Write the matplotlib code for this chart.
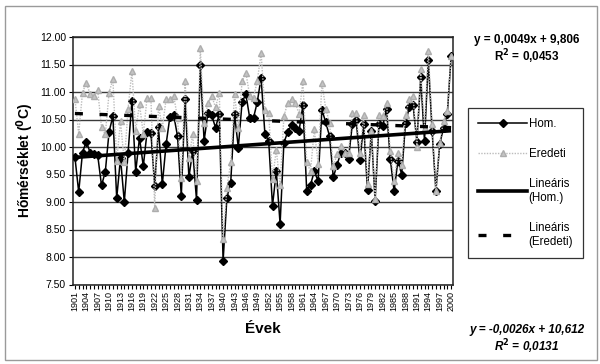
import numpy as np
import matplotlib
matplotlib.use("Agg")
import matplotlib.pyplot as plt
from matplotlib.lines import Line2D
from matplotlib.patches import Rectangle

plt.rcParams['font.family'] = ['Liberation Sans', 'DejaVu Sans']

years = list(range(1901, 2001))

hom = [9.82, 9.18, 9.90, 10.10, 9.90, 9.88, 9.85, 9.30, 9.55, 10.28,
       10.56, 9.07, 9.80, 9.00, 9.90, 10.84, 9.55, 10.17, 9.65, 10.28,
       10.26, 9.29, 10.36, 9.32, 10.05, 10.55, 10.58, 10.20, 9.11, 10.88,
       9.45, 9.93, 9.04, 11.49, 10.11, 10.62, 10.58, 10.35, 10.60, 7.93,
       9.08, 9.35, 10.60, 9.99, 10.82, 10.96, 10.53, 10.53, 10.82, 11.26,
       10.24, 10.11, 8.93, 9.56, 8.60, 10.08, 10.27, 10.40, 10.35, 10.30,
       10.76, 9.20, 9.31, 9.56, 9.38, 10.68, 10.45, 10.20, 9.45, 9.68,
       9.90, 9.90, 9.79, 10.41, 10.50, 9.76, 10.41, 9.21, 10.30, 9.02,
       10.41, 10.38, 10.70, 9.78, 9.20, 9.75, 9.50, 10.44, 10.72, 10.76,
       10.10, 11.27, 10.11, 11.59, 10.30, 9.20, 10.05, 10.35, 10.60, 11.65]

eredeti = [10.88, 10.24, 10.99, 11.17, 10.96, 10.93, 11.03, 10.36, 10.23, 10.99,
           11.23, 9.75, 10.47, 9.72, 10.70, 11.38, 10.30, 10.78, 10.23, 10.90,
           10.90, 8.90, 10.75, 10.35, 10.87, 10.87, 10.93, 10.53, 9.44, 11.20,
           9.80, 10.23, 9.38, 11.80, 10.44, 10.80, 10.93, 10.72, 10.99, 8.32,
           9.26, 9.72, 10.96, 10.35, 11.20, 11.35, 10.93, 10.90, 11.20, 11.71,
           10.68, 10.62, 9.41, 9.95, 9.30, 10.56, 10.80, 10.87, 10.80, 10.60,
           11.20, 9.72, 9.56, 10.32, 9.70, 11.17, 10.70, 10.44, 9.65, 9.87,
           10.02, 9.90, 9.90, 10.62, 10.62, 9.90, 10.58, 9.32, 10.30, 9.05,
           10.58, 10.56, 10.80, 9.93, 9.38, 9.90, 9.68, 10.59, 10.87, 10.93,
           10.00, 11.41, 10.35, 11.75, 10.41, 9.20, 10.08, 10.47, 10.65, 11.65]

hom_slope, hom_intercept, hom_r2 = 0.0049, 9.806, 0.0453
ered_slope, ered_intercept, ered_r2 = -0.0026, 10.612, 0.0131

ytick_vals = [7.5, 8.0, 8.5, 9.0, 9.5, 10.0, 10.5, 11.0, 11.5, 12.0]
xtick_years = years[::3]

fig = plt.figure(figsize=(6.0, 3.64), dpi=100)
fig.patch.set_facecolor('white')
fig.add_artist(Rectangle((5/600, 4/364), 592/600, 354/364, transform=fig.transFigure,
                         fill=False, edgecolor='#9a9a9a', lw=1.0))

ax = fig.add_axes([73/600, 1-284.5/364, (453-73)/600, (284.5-37)/364])

idx = np.arange(1, len(years)+1)
yrs = np.array(years)

ax.plot(yrs, hom, color='black', lw=1.1, marker='D', markersize=3.6, zorder=3)
ax.plot(yrs, eredeti, color='#bcbcbc', lw=1.0, ls=(0, (1, 1)), marker='^',
        markersize=4.5, markeredgecolor='#adadad', markerfacecolor='#c4c4c4', zorder=4)
ax.plot(yrs, hom_slope*idx + hom_intercept, color='black', lw=2.6, zorder=5,
        solid_capstyle='butt')
ax.plot(yrs, ered_slope*idx + ered_intercept, color='black', lw=2.4,
        ls=(0, (2.4, 5.0)), zorder=5, dash_capstyle='butt')

ax.set_xlim(1900.5, 2000.5)
ax.set_ylim(7.5, 12.0)
ax.set_yticks(ytick_vals)
ax.set_yticklabels([f"{v:.2f}" for v in ytick_vals], fontsize=7.5)
ax.set_xticks(xtick_years)
ax.set_xticklabels([str(y) for y in xtick_years], rotation=90, fontsize=6.5)
ax.set_xticks(years, minor=True)
ax.tick_params(axis='x', which='both', direction='out', length=3, width=0.8, pad=1.5)
ax.tick_params(axis='y', direction='out', length=3, width=0.8, pad=2)
ax.grid(axis='y', color='#3a3a3a', lw=1.0, zorder=0)
ax.set_axisbelow(True)
for s in ax.spines.values():
    s.set_color('#222222')
    s.set_linewidth(1.1)

ax.set_ylabel(r'Hőmérséklet ($\mathbf{^{0}}$C)', fontsize=10, fontweight='bold', labelpad=3)
ax.set_xlabel('Évek', fontsize=11, fontweight='bold', labelpad=8)

fig.text(527/600, 1-40/364, 'y = 0,0049x + 9,806', ha='center', va='center',
         fontsize=8.5, fontweight='bold')
fig.text(527/600, 1-57/364, r'R$\mathbf{^{2}}$ = 0,0453', ha='center', va='center',
         fontsize=8.5, fontweight='bold')
fig.text(527/600, 1-330/364, 'y = -0,0026x + 10,612', ha='center', va='center',
         fontsize=8.5, fontweight='bold', style='italic')
fig.text(527/600, 1-347/364, r'R$\mathbf{^{2}}$ = 0,0131', ha='center', va='center',
         fontsize=8.5, fontweight='bold', style='italic')

handles = [
    Line2D([], [], color='black', lw=1.1, marker='D', markersize=3.6),
    Line2D([], [], color='#bcbcbc', lw=1.0, ls=(0, (1, 1)), marker='^', markersize=4.5,
           markeredgecolor='#adadad', markerfacecolor='#c4c4c4'),
    Line2D([], [], color='black', lw=2.6),
    Line2D([], [], color='black', lw=2.4, ls=(0, (2.4, 5.0))),
]
labels = ['Hom.', 'Eredeti', 'Lineáris\n(Hom.)', 'Lineáris\n(Eredeti)']
leg = fig.legend(handles, labels, loc='upper left', bbox_to_anchor=(468/600, 1-108/364),
                 fontsize=8.3, frameon=True, fancybox=False, edgecolor='black',
                 handlelength=4.2, handletextpad=0.15, labelspacing=1.55,
                 borderpad=0.9, borderaxespad=0)
leg.get_frame().set_linewidth(0.9)

fig.savefig('out.png', dpi=100, facecolor='white')
